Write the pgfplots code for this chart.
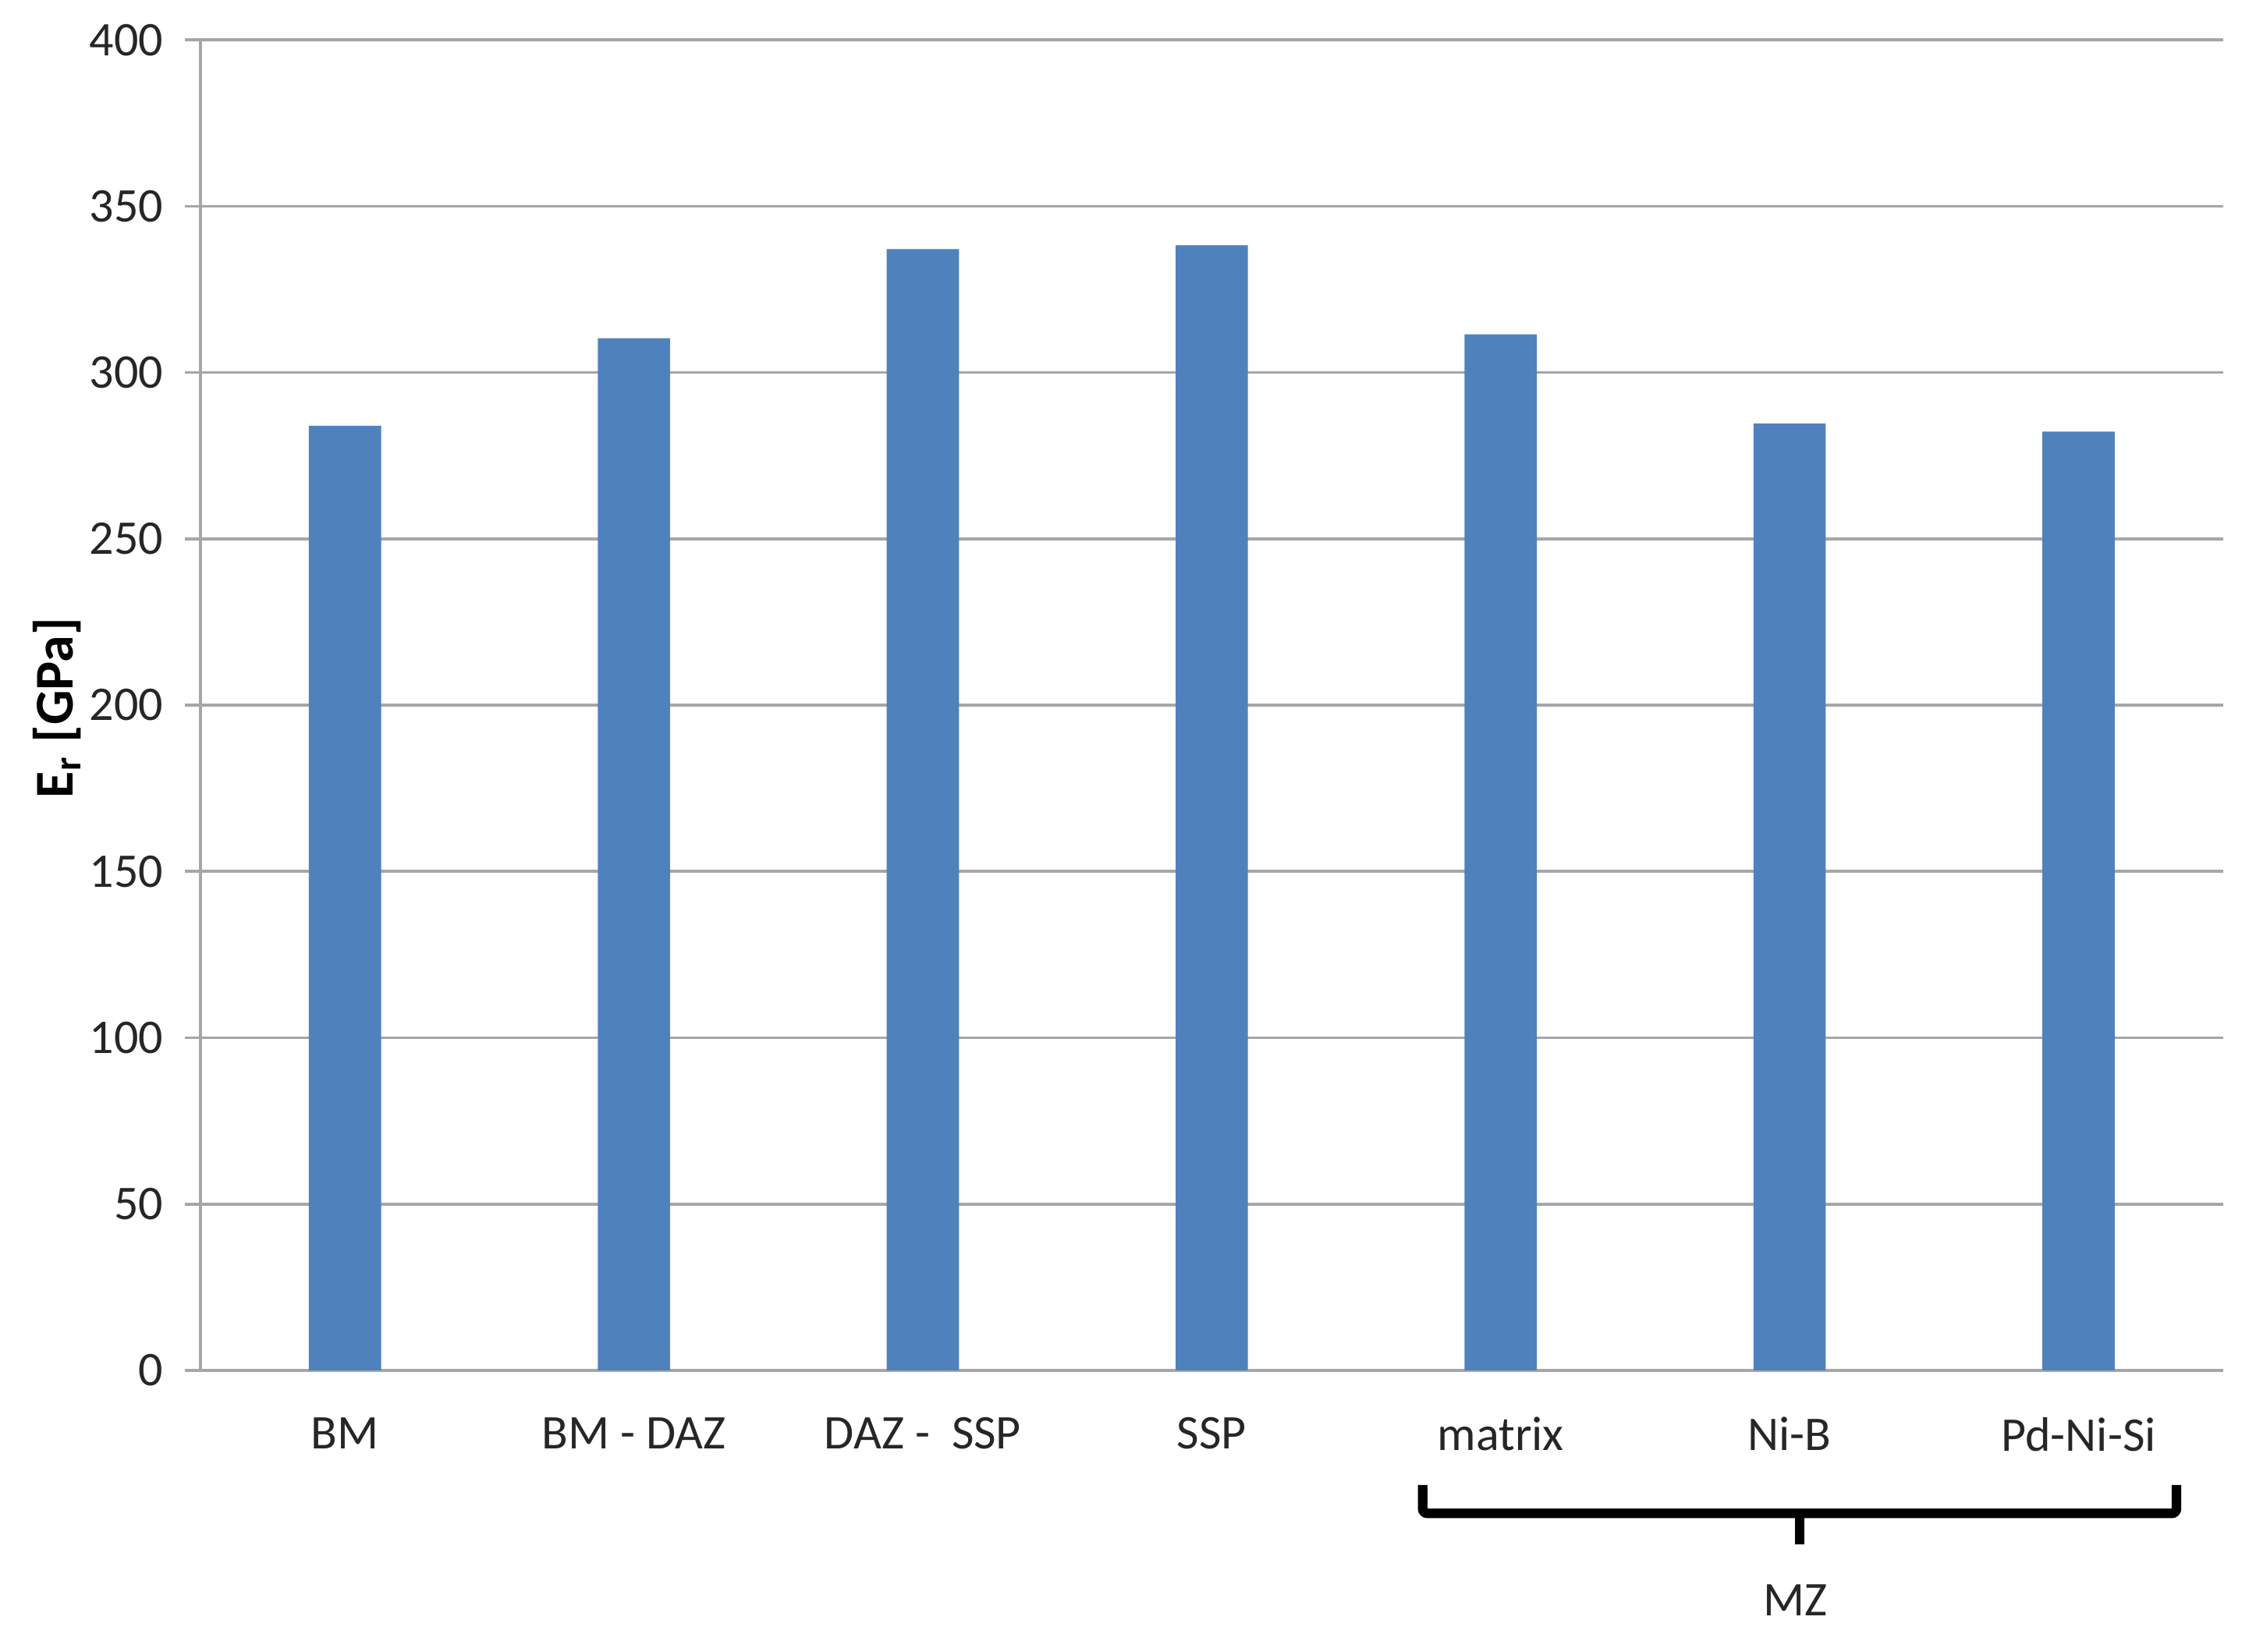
\documentclass[border=0pt]{standalone}
\usepackage{fontspec}
\setmainfont{Carlito}
\usepackage{pgfplots}
\pgfplotsset{compat=1.18}
\definecolor{barblue}{HTML}{4F81BD}
\definecolor{gridgray}{HTML}{A6A6A6}
\begin{document}
\begin{tikzpicture}
\begin{axis}[
  scale only axis, width=418pt, height=275pt,
  xmin=-0.5, xmax=6.5, ymin=0, ymax=400,
  ytick={0,50,...,400},
  xtick={0,...,6},
  xticklabels={BM, BM - DAZ, DAZ -\ \ SSP, SSP, matrix, Ni-B, Pd-Ni-Si},
  ybar, bar width=0.25,
  ymajorgrids, grid style={gridgray, line width=0.6pt},
  axis lines*=left,
  axis line style={gridgray, line width=0.6pt},
  tick align=outside, ytick pos=left,
  major tick length=3.2pt,
  ytick style={gridgray, line width=0.6pt},
  xtick style={draw=none},
  /pgf/number format/assume math mode=true,
  tick label style={font=\fontsize{10}{12}\selectfont, text=black!85},
  yticklabel style={xshift=-1pt},
  xticklabel style={yshift=-3pt},
  clip=false,
]
\addplot[fill=barblue, draw=none] coordinates {
  (0,284.0) (1,310.3) (2,337.1) (3,338.3) (4,311.5) (5,284.7) (6,282.2)
};
\path (axis cs:-1.194,-84.5) rectangle (axis cs:6.59,412);
\node[rotate=90, font=\bfseries\fontsize{11.3}{13}\selectfont] at (rel axis cs:-0.071,0.498) {E\textsubscript{r} [GPa]};
\draw[line width=2pt, black, rounded corners=1pt]
  (axis cs:3.73,-34.5) -- (axis cs:3.73,-43) -- (axis cs:6.339,-43) -- (axis cs:6.339,-34.5);
\draw[line width=2pt, black] (axis cs:5.035,-43) -- (axis cs:5.035,-52.3);
\node[font=\fontsize{10}{12}\selectfont, text=black!85] at (axis cs:5.02,-69.2) {MZ};
\end{axis}
\end{tikzpicture}
\end{document}
